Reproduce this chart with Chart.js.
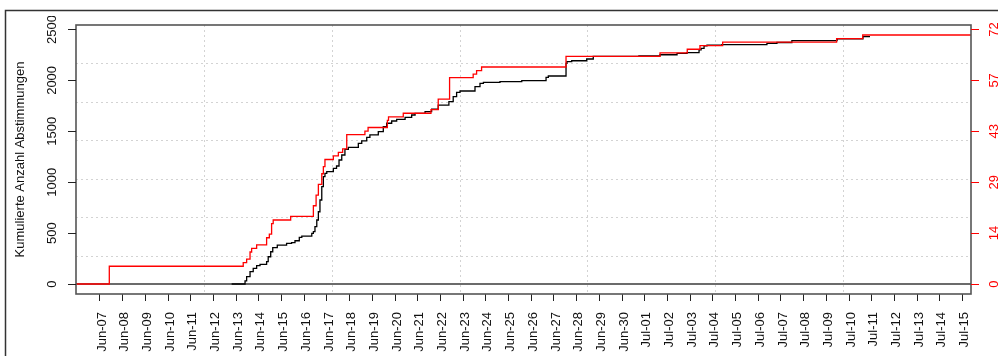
<!DOCTYPE html>
<html>
<head>
<meta charset="utf-8">
<script src="https://cdn.jsdelivr.net/npm/chart.js@4.4.1/dist/chart.umd.min.js"></script>
<style>
  html, body { margin: 0; padding: 0; background: #ffffff; }
  #wrap { width: 998px; height: 356px; }
</style>
</head>
<body>
<div id="wrap"><canvas id="c" width="998" height="356"></canvas></div>
<script>
// Day labels on the x axis (day 0 = Jun-07)
const tickLabels = [
  'Jun-07','Jun-08','Jun-09','Jun-10','Jun-11','Jun-12','Jun-13','Jun-14','Jun-15','Jun-16',
  'Jun-17','Jun-18','Jun-19','Jun-20','Jun-21','Jun-22','Jun-23','Jun-24','Jun-25','Jun-26',
  'Jun-27','Jun-28','Jun-29','Jun-30','Jul-01','Jul-02','Jul-03','Jul-04','Jul-05','Jul-06',
  'Jul-07','Jul-08','Jul-09','Jul-10','Jul-11','Jul-12','Jul-13','Jul-14','Jul-15'
];

// Left axis ticks
const leftTicks = [0, 500, 1000, 1500, 2000, 2500];

// Cumulative votes (black), step positions in days since Jun-07
const voteDays = [
  5.80, 6.39, 6.46, 6.61, 6.75, 6.90, 7.05, 7.34, 7.41, 7.52, 7.61, 7.81, 8.22, 8.44, 8.59,
  8.78, 8.89, 9.33, 9.40, 9.47, 9.55, 9.62, 9.69, 9.77, 9.84, 9.91, 9.99, 10.28, 10.42, 10.53,
  10.65, 10.79, 10.94, 11.38, 11.53, 11.75, 11.89, 12.26, 12.48, 12.63, 12.85, 13.07, 13.44,
  13.73, 13.88, 14.32, 14.61, 14.90, 15.37, 15.56, 15.71, 15.86, 16.52, 16.74, 16.89, 17.62,
  18.58, 19.65, 19.75, 20.53, 20.57, 20.78, 21.44, 21.73, 23.74, 24.67, 25.42, 25.86, 26.39,
  26.48, 26.61, 26.74, 27.40, 29.38, 29.82, 30.48, 32.47, 33.61, 33.92
];
const voteTotals = [
  0, 30, 72, 121, 154, 180, 193, 219, 268, 317, 357, 383, 400, 406, 425,
  459, 471, 498, 514, 563, 629, 710, 825, 956, 1054, 1087, 1103, 1136, 1159, 1218,
  1267, 1323, 1343, 1382, 1405, 1441, 1464, 1496, 1545, 1579, 1601, 1618, 1637,
  1660, 1677, 1693, 1718, 1758, 1791, 1840, 1883, 1896, 1938, 1971, 1981, 1987,
  1997, 2030, 2043, 2168, 2184, 2193, 2210, 2236, 2240, 2252, 2266, 2272, 2299,
  2315, 2338, 2345, 2351, 2364, 2372, 2390, 2407, 2429, 2429
];

// Cumulative count (red, right axis)
const countDays = [
  -1.06, 0.41, 6.31, 6.46, 6.61, 6.68, 6.90, 7.34, 7.46, 7.56, 7.63, 8.40, 9.40, 9.52,
  9.62, 9.77, 9.84, 9.91, 10.28, 10.50, 10.69, 10.87, 11.67, 11.81, 12.66, 12.71, 13.36,
  14.58, 14.90, 15.40, 16.44, 16.59, 16.81, 20.53, 24.67, 25.87, 26.43, 27.43, 32.45,
  33.60, 38.37
];
const countTotals = [
  0, 5, 6, 7, 9, 10, 11, 13, 14, 17, 18, 19, 22, 25,
  28, 31, 33, 35, 36, 37, 38, 42, 43, 44, 46, 47, 48,
  49, 52, 58, 59, 60, 61, 64, 65, 66, 67, 68, 69,
  70, 70
];

// Ratio between the left and right axis units
const countScale = 34.94;

const X_MIN = -1.057, X_MAX = 38.37;
const Y_MIN = -98, Y_MAX = 2544;

const FONT = '"Liberation Sans", Arial, Helvetica, sans-serif';

const frameAndAxes = {
  id: 'frameAndAxes',
  beforeDraw(chart) {
    const ctx = chart.ctx;
    ctx.save();
    ctx.fillStyle = '#ffffff';
    ctx.fillRect(0, 0, chart.width, chart.height);
    ctx.restore();
  },
  beforeDatasetsDraw(chart) {
    const { ctx, chartArea: a } = chart;
    const y = chart.scales.y;
    ctx.save();
    // dotted 7x7 grid over the plot region
    ctx.strokeStyle = '#d3d3d3';
    ctx.lineWidth = 1;
    ctx.setLineDash([2, 3]);
    const w = a.right - a.left, h = a.bottom - a.top;
    for (let i = 1; i < 7; i++) {
      const gx = Math.round(a.left + w * i / 7) + 0.5;
      ctx.beginPath(); ctx.moveTo(gx, a.top); ctx.lineTo(gx, a.bottom); ctx.stroke();
      const gy = Math.round(a.top + h * i / 7) + 0.5;
      ctx.beginPath(); ctx.moveTo(a.left, gy); ctx.lineTo(a.right, gy); ctx.stroke();
    }
    ctx.setLineDash([]);
    // zero line
    const y0 = y.getPixelForValue(0);
    ctx.strokeStyle = '#3a3a3a';
    ctx.lineWidth = 1.3;
    ctx.beginPath(); ctx.moveTo(a.left, y0); ctx.lineTo(a.right, y0); ctx.stroke();
    ctx.restore();
  },
  afterDraw(chart) {
    const { ctx, chartArea: a } = chart;
    const y = chart.scales.y, y2 = chart.scales.y2;
    ctx.save();
    // plot box
    ctx.strokeStyle = '#555555';
    ctx.lineWidth = 1.6;
    ctx.strokeRect(a.left, a.top, a.right - a.left, a.bottom - a.top);
    // outer frame
    ctx.strokeStyle = '#333333';
    ctx.lineWidth = 1.5;
    ctx.beginPath();
    ctx.moveTo(5.5, chart.height); ctx.lineTo(5.5, 10.5); ctx.lineTo(chart.width, 10.5);
    ctx.stroke();

    // left axis ticks and labels
    ctx.strokeStyle = '#222222';
    ctx.lineWidth = 1;
    ctx.font = '13px ' + FONT;
    ctx.fillStyle = '#111111';
    ctx.textAlign = 'center';
    ctx.textBaseline = 'middle';
    ctx.save();
    ctx.beginPath(); ctx.rect(0, 16, chart.width, chart.height); ctx.clip();
    leftTicks.forEach(v => {
      const py = Math.round(y.getPixelForValue(v)) + 0.5;
      ctx.beginPath(); ctx.moveTo(a.left - 8, py); ctx.lineTo(a.left, py); ctx.stroke();
      ctx.save();
      ctx.translate(52, y.getPixelForValue(v));
      ctx.rotate(-Math.PI / 2);
      ctx.fillText(String(v), 0, 0);
      ctx.restore();
    });
    ctx.restore();

    // right axis ticks and labels (red)
    ctx.strokeStyle = '#ff0000';
    ctx.fillStyle = '#ff0000';
    leftTicks.forEach(v => {
      const c = v / countScale;
      const py = Math.round(y2.getPixelForValue(c)) + 0.5;
      ctx.beginPath(); ctx.moveTo(a.right, py); ctx.lineTo(a.right + 8, py); ctx.stroke();
      ctx.save();
      ctx.translate(994, y2.getPixelForValue(c));
      ctx.rotate(-Math.PI / 2);
      ctx.fillText(String(Math.round(c)), 0, 0);
      ctx.restore();
    });

    // left axis title
    ctx.fillStyle = '#111111';
    ctx.save();
    ctx.translate(20, (a.top + a.bottom) / 2);
    ctx.rotate(-Math.PI / 2);
    ctx.fillText('Kumulierte Anzahl Abstimmungen', 0, 0);
    ctx.restore();
    ctx.restore();
  }
};

new Chart(document.getElementById('c'), {
  type: 'line',
  data: {
    datasets: [
      {
        label: 'Abstimmungen',
        data: voteDays.map((d, i) => ({ x: d, y: voteTotals[i] })),
        borderColor: '#000000',
        borderWidth: 1.3,
        stepped: true,
        pointRadius: 0,
        yAxisID: 'y',
        order: 2
      },
      {
        label: 'Anzahl',
        data: countDays.map((d, i) => ({ x: d, y: countTotals[i] })),
        borderColor: '#ff0000',
        borderWidth: 1.3,
        stepped: true,
        pointRadius: 0,
        yAxisID: 'y2',
        order: 1
      }
    ]
  },
  options: {
    responsive: false,
    animation: false,
    events: [],
    layout: { padding: { top: 25, left: 0, right: 0, bottom: 0 } },
    plugins: { legend: { display: false }, tooltip: { enabled: false } },
    scales: {
      x: {
        type: 'linear',
        min: X_MIN,
        max: X_MAX,
        afterBuildTicks: s => { s.ticks = tickLabels.map((_, i) => ({ value: i })); },
        afterFit: s => { s.height = 62; },
        ticks: {
          autoSkip: false,
          minRotation: 90,
          maxRotation: 90,
          padding: 11,
          labelOffset: 2,
          color: '#111111',
          font: { family: FONT, size: 13 },
          callback: (v, i) => tickLabels[i]
        },
        grid: { drawOnChartArea: false, drawTicks: true, tickLength: 7, color: '#222222' },
        border: { display: false }
      },
      y: {
        position: 'left',
        min: Y_MIN,
        max: Y_MAX,
        afterFit: s => { s.width = 76; },
        ticks: { display: false },
        grid: { display: false },
        border: { display: false }
      },
      y2: {
        position: 'right',
        min: Y_MIN / countScale,
        max: Y_MAX / countScale,
        afterFit: s => { s.width = 27; },
        ticks: { display: false },
        grid: { display: false },
        border: { display: false }
      }
    }
  },
  plugins: [frameAndAxes]
});
</script>
</body>
</html>
